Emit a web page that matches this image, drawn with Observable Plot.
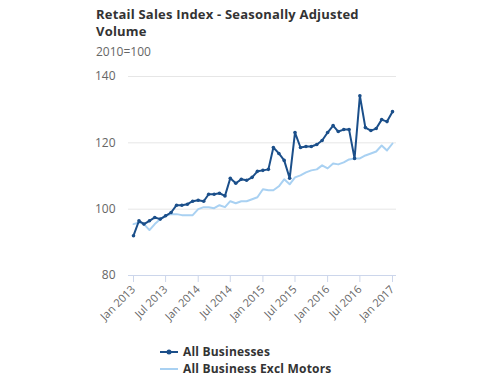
<!DOCTYPE html>
<html>
<head>
<meta charset="utf-8">
<script src="https://cdn.jsdelivr.net/npm/d3@7"></script>
<script src="https://cdn.jsdelivr.net/npm/@observablehq/plot@0.6"></script>
<style>
  html, body { margin: 0; padding: 0; background: #fff; }
  #wrap { position: relative; width: 504px; height: 384px; overflow: hidden; font-family: "Open Sans", "DejaVu Sans", sans-serif; }
  #title { position: absolute; left: 96px; top: 6px; width: 280px; font-size: 13px; font-weight: bold; color: #333; line-height: 17px; letter-spacing: 0.2px; }
  #subtitle { position: absolute; left: 96px; top: 43px; font-size: 12px; color: #666; }
  #chart { position: absolute; left: 0; top: 0; }
  .leg { position: absolute; left: 160px; font-size: 12px; font-weight: bold; color: #333; display: flex; align-items: center; letter-spacing: 0.2px; }
  .leg svg { margin-right: 5px; }
</style>
</head>
<body>
<div id="wrap">
  <div id="chart"></div>
  <div id="title">Retail Sales Index - Seasonally Adjusted Volume</div>
  <div id="subtitle">2010=100</div>
  <div class="leg" style="top:343px"><svg width="18" height="10"><line x1="0" x2="18" y1="5" y2="5" stroke="#1b4f8a" stroke-width="2"/><circle cx="9" cy="5" r="2.5" fill="#1b4f8a"/></svg>All Businesses</div>
  <div class="leg" style="top:360px"><svg width="18" height="10"><line x1="0" x2="18" y1="5" y2="5" stroke="#a9d1f2" stroke-width="2"/></svg>All Business Excl Motors</div>
</div>
<script>
const startYear = 2013;
const allBusinesses = [
  92.0, 96.5, 95.5, 96.5, 97.5, 97.0, 98.0, 99.0, 101.2, 101.2, 101.5, 102.4,
  102.7, 102.4, 104.5, 104.5, 104.8, 104.0, 109.3, 107.8, 109.0, 108.7, 109.6, 111.4,
  111.7, 112.0, 118.6, 116.8, 114.7, 109.3, 123.1, 118.6, 118.9, 118.9, 119.5, 120.7,
  123.1, 125.2, 123.4, 124.0, 124.0, 115.3, 134.2, 124.6, 123.7, 124.3, 127.0, 126.4,
  129.4
];
const exclMotors = [
  95.5, 96.0, 95.5, 93.7, 95.5, 97.0, 98.0, 98.5, 98.5, 98.2, 98.2, 98.2,
  100.0, 100.6, 100.6, 100.3, 101.2, 100.6, 102.4, 101.8, 102.4, 102.4, 103.0, 103.6,
  106.0, 105.7, 105.7, 106.9, 109.0, 107.5, 109.6, 110.2, 111.1, 111.7, 112.0, 113.2,
  112.3, 113.8, 113.5, 114.1, 115.0, 115.3, 115.3, 116.2, 116.8, 117.4, 119.2, 117.7,
  119.8
];
const yTicks = [80, 100, 120, 140];
const xTickLabels = ["Jan 2013","Jul 2013","Jan 2014","Jul 2014","Jan 2015","Jul 2015","Jan 2016","Jul 2016","Jan 2017"];

const monthDate = i => new Date(Date.UTC(startYear, i, 1));
const dark = allBusinesses.map((v, i) => ({date: monthDate(i), value: v}));
const light = exclMotors.map((v, i) => ({date: monthDate(i), value: v}));
const xTicks = xTickLabels.map((_, i) => monthDate(i * 6));

const chart = Plot.plot({
  width: 504,
  height: 335,
  marginTop: 76,
  marginBottom: 60,
  marginLeft: 128,
  marginRight: 108,
  style: {fontFamily: '"Open Sans", "DejaVu Sans", sans-serif', fontSize: "11px", color: "#666", background: "transparent"},
  x: {type: "utc", domain: [monthDate(0), monthDate(48)], insetLeft: 5, insetRight: 4},
  y: {domain: [80, 140]},
  marks: [
    Plot.ruleY(yTicks.slice(1), {stroke: "#e6e6e6", strokeOpacity: 1}),
    Plot.ruleY([80], {stroke: "#ccd6eb", strokeOpacity: 1}),
    Plot.axisY({ticks: yTicks, tickSize: 0, tickPadding: 13, fontSize: 12, fill: "#666", label: null}),
    Plot.axisX({ticks: xTicks, tickFormat: (d, i) => xTickLabels[i], tickRotate: -45, tickSize: 7, tickPadding: 5, stroke: "#ccd6eb", fill: "#666", fontSize: 11, label: null}),
    Plot.line(light, {x: "date", y: "value", stroke: "#a9d1f2", strokeWidth: 2}),
    Plot.line(dark, {x: "date", y: "value", stroke: "#1b4f8a", strokeWidth: 2}),
    Plot.dot(dark, {x: "date", y: "value", fill: "#1b4f8a", r: 1.8})
  ]
});
document.getElementById("chart").appendChild(chart);
</script>
</body>
</html>
